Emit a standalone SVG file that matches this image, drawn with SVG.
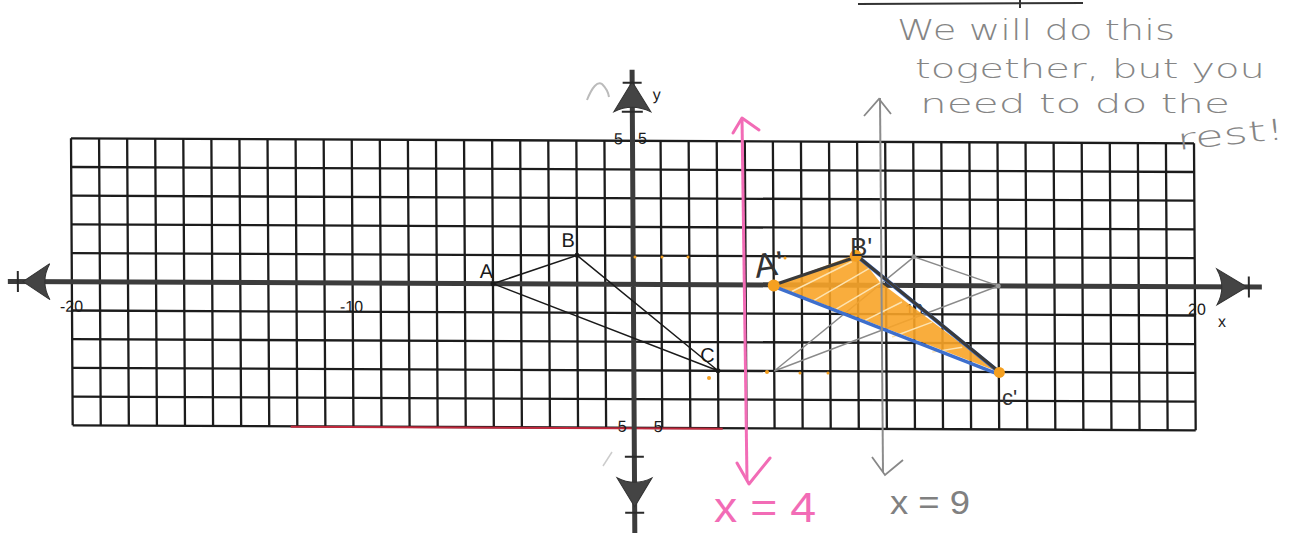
<svg xmlns="http://www.w3.org/2000/svg" width="1293" height="533" viewBox="0 0 1293 533">
<style>
.grid{fill:none;stroke:#1c1c1c;stroke-width:2.3}
.axis{fill:none;stroke:#3c3c3c;stroke-width:5}
.tick{fill:none;stroke:#2a2a2a;stroke-width:2}
.head{fill:#444;stroke:#333;stroke-width:1}
.num{font-family:"Liberation Sans",Arial,sans-serif;font-size:16px;fill:#1a1a1a}
.pt{font-family:"Liberation Sans",Arial,sans-serif;font-size:20px;fill:#1a1a1a}
.hand{font-family:"DejaVu Sans","Liberation Sans",sans-serif;font-weight:200;fill:#858585}
.prime{font-family:"Liberation Sans",Arial,sans-serif;fill:#333}
.thin{fill:none;stroke:#1a1a1a;stroke-width:1.5}
.gray{fill:none;stroke:#8a8a8a;stroke-width:1.4}
.dot{fill:#f5a020}
</style>
<rect width="1293" height="533" fill="#ffffff"/>

<path d="M858 4 L1083 3 M1020 0 V8" stroke="#333" stroke-width="2" fill="none"/>

<g transform="matrix(1,0.00445,0.0059,1,71,138.3)">
  <g id="grid">
    <path class="grid" d="M0 0V287M28.08 0V287M56.15 0V287M84.23 0V287M112.3 0V287M140.38 0V287M168.45 0V287M196.53 0V287M224.6 0V287M252.68 0V287M280.75 0V287M308.83 0V287M336.9 0V287M364.98 0V287M393.05 0V287M421.13 0V287M449.2 0V287M477.28 0V287M505.35 0V287M533.43 0V287M561.5 0V287M589.58 0V287M617.65 0V287M645.73 0V287M673.8 0V287M701.88 0V287M729.95 0V287M758.03 0V287M786.1 0V287M814.18 0V287M842.25 0V287M870.33 0V287M898.4 0V287M926.48 0V287M954.55 0V287M982.63 0V287M1010.7 0V287M1038.78 0V287M1066.85 0V287M1094.93 0V287M1123 0V287"/>
    <path class="grid" d="M0 0H1123M0 28.7H1123M0 57.4H1123M0 86.1H1123M0 114.8H1123M0 172.2H1123M0 200.9H1123M0 229.6H1123M0 258.3H1123M0 287H1123"/>
    <path d="M218 287.6H650" stroke="#c0283c" stroke-width="2" fill="none"/>
  </g>
  <g id="axes">
    <path class="axis" d="M-64 143.5H1190M561.5 -71V395"/>
    <path class="head" d="M1175 143.5 L1145 125.5 Q1155 143.5 1145 161.5 Z"/>
    <path class="head" d="M-49 143.5 L-22 125.5 Q-32 143.5 -22 161.5 Z"/>
    <path class="head" d="M561.5 -59 L543 -29 Q561.5 -38 580 -29 Z"/>
    <path class="head" d="M561.5 366 L544 337 Q561.5 346 579 337 Z"/>
    <path class="tick" d="M1177 133V154M-54 133V154M552 -58H571M551 -29H572M552 316H571M552 372H571"/>
  </g>
  <g id="axis-labels">
    <text class="num" x="-12" y="173.5">-20</text>
    <text class="num" x="268" y="172.5">-10</text>
    <text class="num" x="833" y="173">10</text>
    <text class="num" x="1116" y="171.5">20</text>
    <text class="num" x="1146" y="183.5">x</text>
    <text class="num" x="582" y="-41">y</text>
    <text class="num" x="543" y="3.5">5</text>
    <text class="num" x="567" y="3">5</text>
    <text class="num" x="545" y="291">5</text>
    <text class="num" x="581" y="291">5</text>
  </g>
  <g id="triangle-ABC">
    <path class="thin" d="M421.1 143.5 L505.4 114.8 L645.7 229.6 Z"/>
    <circle cx="421.1" cy="143.5" r="2.5" fill="#1a1a1a"/>
    <circle cx="505.4" cy="114.8" r="2.5" fill="#1a1a1a"/>
    <circle cx="645.7" cy="229.6" r="2.5" fill="#1a1a1a"/>
    <text class="pt" x="408" y="138">A</text>
    <text class="pt" x="490" y="106.5">B</text>
    <text class="pt" x="628" y="221">C</text>
  </g>
  <g id="triangle-gray">
    <path class="gray" d="M926.5 143.5 L842.3 114.8 L701.9 229.6 Z"/>
    <circle cx="842.3" cy="114.8" r="2.5" fill="#999"/>
    <circle cx="926.5" cy="143.5" r="2.5" fill="#999"/>
  </g>
  <g id="triangle-final">
    <path d="M701.9 143.5 L786.1 112 L808 140 L926.5 229.6 Z" fill="#f8a428" opacity="0.9"/>
    <path d="M720 150 L780 120 M740 160 L800 125 M760 170 L810 140 M790 180 L830 160 M820 195 L860 180 M860 210 L890 205" stroke="#fde3b0" stroke-width="1.5" fill="none"/>
    <path d="M701.9 145 L926.5 232" stroke="#3e6fcc" stroke-width="3.5" fill="none"/>
    <path d="M786.1 114.8 L926.5 229.6" stroke="#3e6fcc" stroke-width="4" fill="none"/>
    <path d="M701.9 143.5 L786.1 114.8 L924 227" stroke="#3a3a3a" stroke-width="3.2" fill="none"/>
    <circle cx="701.9" cy="144" r="6" class="dot"/>
    <circle cx="784" cy="114" r="6" class="dot"/>
    <circle cx="927" cy="230" r="5.5" class="dot"/>
  </g>
</g>

<g id="dots">
  <circle class="dot" cx="635" cy="257" r="1.5"/>
  <circle class="dot" cx="662" cy="257" r="1.5"/>
  <circle class="dot" cx="688" cy="257" r="1.5"/>
  <circle class="dot" cx="709" cy="378" r="2"/>
  <circle class="dot" cx="767" cy="372" r="2"/>
  <circle class="dot" cx="800" cy="373" r="1.5"/>
  <circle class="dot" cx="828" cy="373" r="1.5"/>
  <circle class="dot" cx="785" cy="258" r="1.5"/>
</g>

<g id="handwritten-labels">
  <text class="prime" x="754" y="276" font-size="34" transform="rotate(-8 770 262)">A'</text>
  <text class="prime" x="850" y="256" font-size="26">B'</text>
  <text class="prime" x="1002" y="405" font-size="22">c'</text>
</g>

<g id="connectors">
  <path d="M587 100 Q595 80 602 84 Q608 90 609 97" fill="none" stroke="#bbb" stroke-width="2"/>
  <path d="M603 466 L612 452" fill="none" stroke="#ccc" stroke-width="1.5"/>
  <path d="M742 118 Q744 300 747 480" fill="none" stroke="#f26cb6" stroke-width="3"/>
  <path d="M733 133 L742 118 L759 130" fill="none" stroke="#f26cb6" stroke-width="3" stroke-linecap="round" stroke-linejoin="round"/>
  <path d="M737 463 L749 484 L770 458" fill="none" stroke="#f26cb6" stroke-width="3" stroke-linecap="round" stroke-linejoin="round"/>
  <path d="M880 98 L883 472" fill="none" stroke="#8c8c8c" stroke-width="2"/>
  <path d="M864 116 L879 99 L891 114" fill="none" stroke="#888" stroke-width="1.8"/>
  <path d="M872 457 L885 475 L903 460" fill="none" stroke="#888" stroke-width="1.8"/>
</g>

<g id="equations">
  <text x="714" y="522" font-family="Liberation Sans,Arial,sans-serif" font-size="42" fill="#f26cb6" textLength="102" lengthAdjust="spacingAndGlyphs">x = 4</text>
  <text x="890" y="514" font-family="Liberation Sans,Arial,sans-serif" font-size="34" fill="#808080" textLength="80" lengthAdjust="spacingAndGlyphs">x = 9</text>
</g>

<g id="note">
  <text class="hand" x="897" y="40" font-size="29" textLength="278" lengthAdjust="spacingAndGlyphs">We will do this</text>
  <text class="hand" x="915" y="78" font-size="27" textLength="350" lengthAdjust="spacingAndGlyphs">together, but you</text>
  <text class="hand" x="920" y="113" font-size="27" textLength="310" lengthAdjust="spacingAndGlyphs">need to do the</text>
  <text class="hand" x="1178" y="150" font-size="29" textLength="108" lengthAdjust="spacingAndGlyphs" transform="rotate(-6 1178 150)">rest!</text>
</g>
</svg>
